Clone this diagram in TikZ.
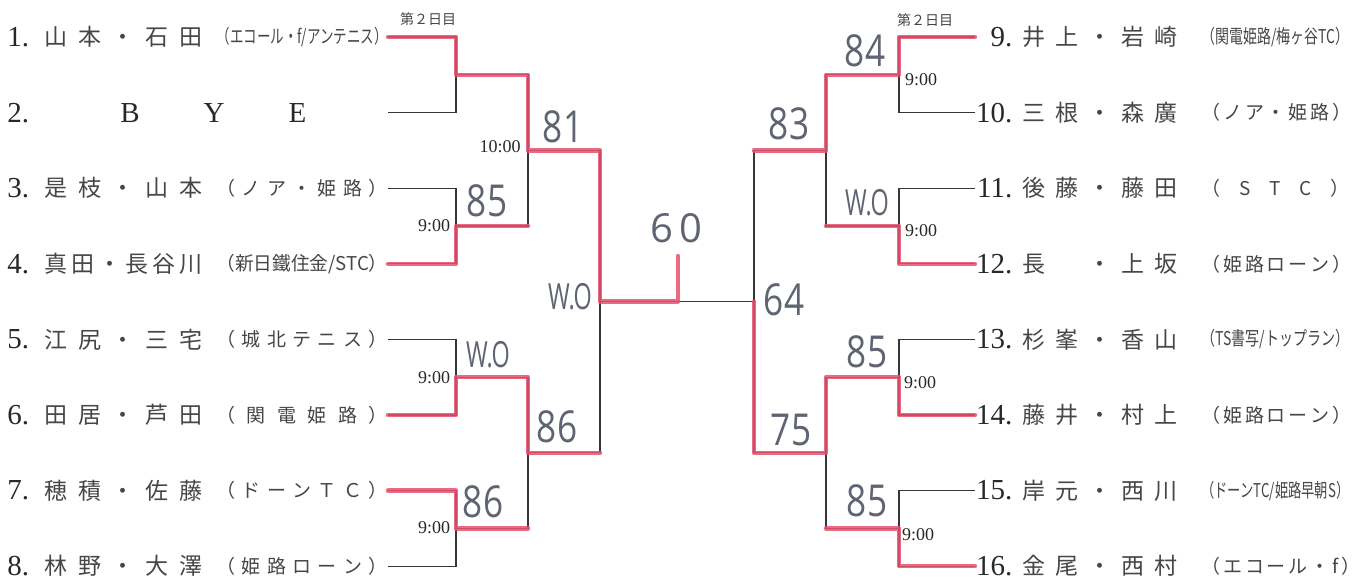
\documentclass[tikz,border=0pt]{standalone}
\usepackage{fontspec}
\setmainfont{Liberation Serif}
\newfontfamily\jpfont{Noto Sans CJK JP}
\newfontfamily\handfont{Open Sans}
\usepackage{graphicx}
\usepackage{xcolor}
\definecolor{inkgray}{RGB}{40,40,40}
\definecolor{jpgray}{RGB}{70,70,70}
\definecolor{linegray}{RGB}{55,55,55}
\definecolor{markerred}{RGB}{232,80,110}
\definecolor{pencil}{RGB}{95,100,115}
% fixed-width boxes for names and clubs
\newcommand{\nameL}[1]{\makebox[79pt][s]{#1}}
\newcommand{\nameR}[1]{\makebox[77.5pt][s]{#1}}
\newcommand{\teamLs}[1]{\makebox[85.5pt][s]{#1}}
\newcommand{\teamLq}[1]{\resizebox{85.5pt}{\height}{#1}}
\newcommand{\teamRs}[1]{\makebox[74pt][s]{#1}}
\newcommand{\teamRq}[1]{\resizebox{74pt}{\height}{#1}}
\newcommand{\seedR}[1]{\makebox[18.5pt][r]{#1}}
\newcommand{\narrow}[2]{\scalebox{#1}[1]{#2}}

\begin{document}
\begin{tikzpicture}[
  x=0.5pt, y=-0.5pt,
  seed/.style={font=\fontsize{14.5pt}{14.5pt}\selectfont, text=inkgray, inner sep=0pt},
  pname/.style={font=\jpfont\fontsize{11.5pt}{11.5pt}\selectfont, text=jpgray, inner sep=0pt},
  team/.style={font=\jpfont\fontsize{9.5pt}{9.5pt}\selectfont, text=jpgray, inner sep=0pt},
  clock/.style={font=\fontsize{9pt}{9pt}\selectfont, text=inkgray, inner sep=0pt},
  daytag/.style={font=\jpfont\fontsize{7pt}{7pt}\selectfont, text=jpgray, inner sep=0pt},
  score/.style={font=\handfont\fontsize{22pt}{22pt}\selectfont, text=pencil, inner sep=0pt},
  bline/.style={draw=linegray, line width=0.6pt},
  wline/.style={draw=markerred, line width=2.2pt, line cap=round, line join=round, opacity=0.85},
]
  \fill[white] (0,0) rectangle (1359,584);
  \useasboundingbox (0,0) rectangle (1359,584);

  % left half players
  \node[seed, anchor=west] (n1) at (7,37) {1.};
  \node[pname, anchor=west] (a1) at (44,37) {\nameL{山 本 ・ 石 田}};
  \node[team, anchor=east] (t1) at (388,37) {\teamLq{（エコール・f/アンテニス）}};
  \node[seed, anchor=west] (n2) at (7,112.6) {2.};
  \node[seed, anchor=west] (a2) at (120,112.6) {\makebox[93pt][s]{B Y E}};
  \node[team, anchor=east] (t2) at (388,112.6) {};
  \node[seed, anchor=west] (n3) at (7,188.2) {3.};
  \node[pname, anchor=west] (a3) at (44,188.2) {\nameL{是 枝 ・ 山 本}};
  \node[team, anchor=east] (t3) at (388,188.2) {\teamLs{（ ノ ア ・ 姫 路 ）}};
  \node[seed, anchor=west] (n4) at (7,263.8) {4.};
  \node[pname, anchor=west] (a4) at (44,263.8) {\nameL{真 田 ・ 長 谷 川}};
  \node[team, anchor=east] (t4) at (388,263.8) {\teamLq{（新日鐵住金/STC）}};
  \node[seed, anchor=west] (n5) at (7,339.4) {5.};
  \node[pname, anchor=west] (a5) at (44,339.4) {\nameL{江 尻 ・ 三 宅}};
  \node[team, anchor=east] (t5) at (388,339.4) {\teamLs{（ 城 北 テ ニ ス ）}};
  \node[seed, anchor=west] (n6) at (7,415) {6.};
  \node[pname, anchor=west] (a6) at (44,415) {\nameL{田 居 ・ 芦 田}};
  \node[team, anchor=east] (t6) at (388,415) {\teamLs{（ 関 電 姫 路 ）}};
  \node[seed, anchor=west] (n7) at (7,490.6) {7.};
  \node[pname, anchor=west] (a7) at (44,490.6) {\nameL{穂 積 ・ 佐 藤}};
  \node[team, anchor=east] (t7) at (388,490.6) {\teamLs{（ ド ー ン Ｔ Ｃ ）}};
  \node[seed, anchor=west] (n8) at (7,566.2) {8.};
  \node[pname, anchor=west] (a8) at (44,566.2) {\nameL{林 野 ・ 大 澤}};
  \node[team, anchor=east] (t8) at (388,566.2) {\teamLs{（ 姫 路 ロ ー ン ）}};

  % right half players
  \node[seed, anchor=west] (n9) at (975,37) {\seedR{9.}};
  \node[pname, anchor=west] (a9) at (1022,37) {\nameR{井 上 ・ 岩 崎}};
  \node[team, anchor=west] (t9) at (1201,37) {\teamRq{（関電姫路/梅ヶ谷TC）}};
  \node[seed, anchor=west] (n10) at (975,112.6) {\seedR{10.}};
  \node[pname, anchor=west] (a10) at (1022,112.6) {\nameR{三 根 ・ 森 廣}};
  \node[team, anchor=west] (t10) at (1201,112.6) {\teamRs{（ ノ ア ・ 姫 路 ）}};
  \node[seed, anchor=west] (n11) at (975,188.2) {\seedR{11.}};
  \node[pname, anchor=west] (a11) at (1022,188.2) {\nameR{後 藤 ・ 藤 田}};
  \node[team, anchor=west] (t11) at (1201,188.2) {\teamRs{（ S T C ）}};
  \node[seed, anchor=west] (n12) at (975,263.8) {\seedR{12.}};
  \node[pname, anchor=west] (a12) at (1022,263.8) {\nameR{長 \phantom{田} ・ 上 坂}};
  \node[team, anchor=west] (t12) at (1201,263.8) {\teamRs{（ 姫 路 ロ ー ン ）}};
  \node[seed, anchor=west] (n13) at (975,339.4) {\seedR{13.}};
  \node[pname, anchor=west] (a13) at (1022,339.4) {\nameR{杉 峯 ・ 香 山}};
  \node[team, anchor=west] (t13) at (1201,339.4) {\teamRq{（TS書写/トップラン）}};
  \node[seed, anchor=west] (n14) at (975,415) {\seedR{14.}};
  \node[pname, anchor=west] (a14) at (1022,415) {\nameR{藤 井 ・ 村 上}};
  \node[team, anchor=west] (t14) at (1201,415) {\teamRs{（ 姫 路 ロ ー ン ）}};
  \node[seed, anchor=west] (n15) at (975,490.6) {\seedR{15.}};
  \node[pname, anchor=west] (a15) at (1022,490.6) {\nameR{岸 元 ・ 西 川}};
  \node[team, anchor=west] (t15) at (1201,490.6) {\teamRq{（ドーンTC/姫路早朝S）}};
  \node[seed, anchor=west] (n16) at (975,566.2) {\seedR{16.}};
  \node[pname, anchor=west] (a16) at (1022,566.2) {\nameR{金 尾 ・ 西 村}};
  \node[team, anchor=west] (t16) at (1201,566.2) {\teamRs{（ エ コ ー ル ・ f ）}};

  % bracket joints
  \coordinate (m1) at (456,74.8);  \coordinate (m2) at (456,226);
  \coordinate (m3) at (456,377.2); \coordinate (m4) at (456,528.4);
  \coordinate (q1) at (528,150.4); \coordinate (q2) at (528,452.8);
  \coordinate (s1) at (600,301.6);
  \coordinate (fm) at (678,301.6); \coordinate (ftop) at (678,256);
  \coordinate (s2) at (754,301.6);
  \coordinate (q3) at (826,150.4); \coordinate (q4) at (826,452.8);
  \coordinate (m5) at (899,74.8);  \coordinate (m6) at (899,226);
  \coordinate (m7) at (899,377.2); \coordinate (m8) at (899,528.4);

  % bracket lines
  \draw[bline] (t1.east) -| (m1) |- (t2.east);
  \draw[bline] (t3.east) -| (m2) |- (t4.east);
  \draw[bline] (t5.east) -| (m3) |- (t6.east);
  \draw[bline] (t7.east) -| (m4) |- (t8.east);
  \draw[bline] (m1) -| (q1) |- (m2);
  \draw[bline] (m3) -| (q2) |- (m4);
  \draw[bline] (q1) -| (s1) |- (q2);
  \draw[bline] (s1) -- (s2);
  \draw[bline] (q3) -| (s2) |- (q4);
  \draw[bline] (m5) -| (q3) |- (m6);
  \draw[bline] (m7) -| (q4) |- (m8);
  \draw[bline] (n9.west) -| (m5) |- (n10.west);
  \draw[bline] (n11.west) -| (m6) |- (n12.west);
  \draw[bline] (n13.west) -| (m7) |- (n14.west);
  \draw[bline] (n15.west) -| (m8) |- (n16.west);

  % winners marked in red
  \draw[wline] (t1.east) -| (m1) -| (q1) -| (s1) -- (fm) -- (ftop);
  \draw[wline] (t4.east) -| (m2) -- (m2 -| q1);
  \draw[wline] (t6.east) -| (m3) -| (q2) -- (q2 -| s1);
  \draw[wline] (t7.east) -| (m4) -- (m4 -| q2);
  \draw[wline] (n9.west) -| (m5) -| (q3) -- (q3 -| s2);
  \draw[wline] (n12.west) -| (m6) -- (m6 -| q3);
  \draw[wline] (n14.west) -| (m7) -| (q4) -| (s2);
  \draw[wline] (n16.west) -| (m8) -- (m8 -| q4);

  % day and start times
  \node[daytag] (d1) at (428,19) {第２日目};
  \node[daytag] (d2) at (925,20) {第２日目};
  \node[clock] (c1) at (500,147) {10:00};
  \node[clock] (c2) at (434,226) {9:00};
  \node[clock] (c3) at (434,378) {9:00};
  \node[clock] (c4) at (434,528) {9:00};
  \node[clock] (c5) at (921,80) {9:00};
  \node[clock] (c6) at (921,231) {9:00};
  \node[clock] (c7) at (920,383) {9:00};
  \node[clock] (c8) at (918,535) {9:00};

  % handwritten scores
  \node[score] (g1) at (563,127) {\narrow{0.8}{81}};
  \node[score] (g2) at (487,201) {\narrow{0.8}{85}};
  \node[score, font=\handfont\fontsize{18pt}{18pt}\selectfont] (g3) at (488,355) {\narrow{0.65}{W.O}};
  \node[score] (g4) at (557,427) {\narrow{0.8}{86}};
  \node[score] (g5) at (483,502) {\narrow{0.8}{86}};
  \node[score, font=\handfont\fontsize{18pt}{18pt}\selectfont] (g6) at (570,297) {\narrow{0.65}{W.O}};
  \node[score, font=\handfont\fontsize{20pt}{20pt}\selectfont] (g7) at (676,228) {6\hspace{3pt}0};
  \node[score] (g8) at (784,300) {\narrow{0.8}{64}};
  \node[score] (g9) at (789,124) {\narrow{0.8}{83}};
  \node[score] (g10) at (865,51) {\narrow{0.8}{84}};
  \node[score, font=\handfont\fontsize{18pt}{18pt}\selectfont] (g11) at (867,203) {\narrow{0.65}{W.O}};
  \node[score] (g12) at (791,430) {\narrow{0.8}{75}};
  \node[score] (g13) at (867,352) {\narrow{0.8}{85}};
  \node[score] (g14) at (867,501) {\narrow{0.8}{85}};
\end{tikzpicture}
\end{document}
